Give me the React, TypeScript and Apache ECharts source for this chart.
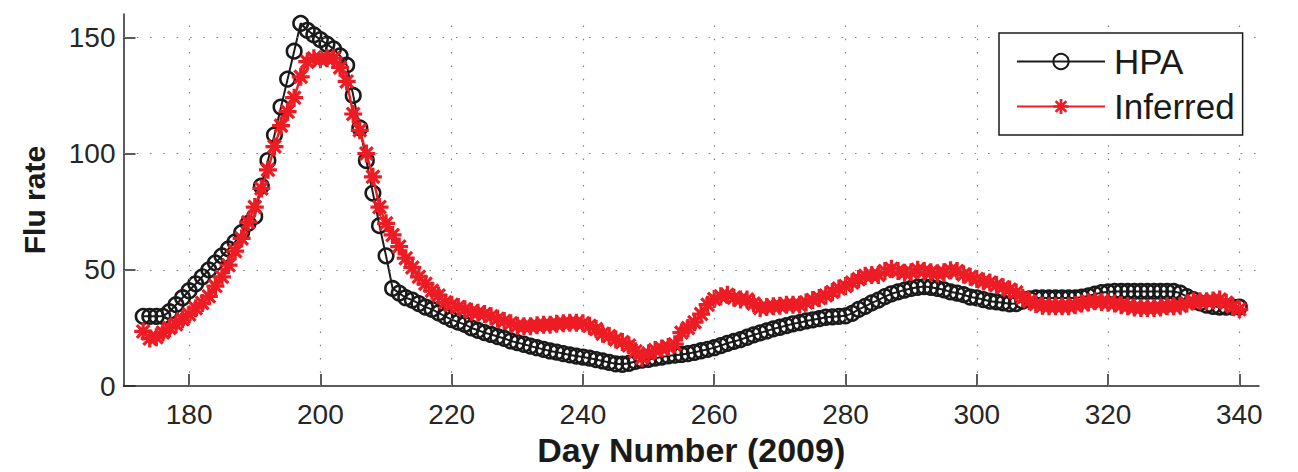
import { useEffect, useRef } from "react";
import * as echarts from "echarts";

// ---- data ----
const FIRST_DAY = 173; // first observed day; one value per day up to 340

const HPA = [
  30, 30, 30, 30, 32, 35, 38, 41, 44, 47, // 173-182
  50, 53, 56, 59, 62, 66, 70, 73, 86, 97, // 183-192
  108, 120, 132, 144, 156, 153, 151, 149, 147, 145, // 193-202
  142, 138, 125, 111, 97, 83, 69, 56, 42, 40, // 203-212
  38, 37, 35.5, 34, 33, 31.5, 30, 28.6, 27.5, 26.5, // 213-222
  25, 24, 23, 22.2, 21.3, 20.5, 19.4, 18.7, 18, 17.2, // 223-232
  16.5, 15.8, 15.1, 14.6, 14, 13.4, 12.9, 12.5, 12, 11.4, // 233-242
  10.8, 10.2, 9.6, 9.4, 9.8, 10.6, 11.2, 11.5, 12, 12.5, // 243-252
  13, 13.3, 13.6, 14, 14.5, 15.2, 15.8, 16.5, 17.4, 18.4, // 253-262
  19.2, 20, 21, 22, 22.9, 23.7, 24.6, 25.3, 26, 26.8, // 263-272
  27.3, 28, 28.5, 29, 29.6, 29.8, 30, 30.2, 31.3, 33, // 273-282
  34.3, 35.8, 37, 38.5, 39.7, 40.5, 41.3, 42, 42.5, 42.8, // 283-292
  42.5, 42, 41.4, 40.5, 40, 39.3, 38.3, 37.9, 37.2, 36.5, // 293-302
  36.2, 35.8, 35.4, 35.5, 36.5, 37.5, 37.9, 37.9, 37.9, 37.9, // 303-312
  37.9, 37.9, 37.9, 38.2, 38.8, 39.5, 40.2, 40.5, 40.7, 40.7, // 313-322
  40.7, 40.7, 40.7, 40.7, 40.7, 40.7, 40.7, 40.7, 40, 38.5, // 323-332
  37.2, 35.8, 34.8, 34.3, 34, 34, 34, 34, // 333-340
];

const INFERRED = [
  23.5, 20.5, 21, 23, 25, 26.6, 28.7, 30.8, 33.5, 35.7, // 173-182
  38.6, 43, 47, 52, 58, 63.5, 70.5, 77, 85, 93, // 183-192
  103, 112, 118, 124, 133, 139.5, 141, 140.5, 141, 141, // 193-202
  137, 131, 117, 110, 100, 90, 77, 70, 65, 60, // 203-212
  55, 51, 47, 44, 41, 39, 36, 35, 34, 33, // 213-222
  32, 31.5, 31, 30, 29, 28, 27, 26, 25.7, 25.7, // 223-232
  26.2, 26.4, 26.4, 26.8, 27, 27.2, 27.2, 27, 26, 24.5, // 233-242
  22.5, 21.5, 20, 19, 17.5, 15, 12.2, 14, 15.5, 16.2, // 243-252
  16.8, 18, 23, 25, 27.5, 31, 35, 37.5, 38.6, 39.3, // 253-262
  38, 37.2, 37.2, 35.5, 33.6, 34, 34.3, 34.6, 35, 35, // 263-272
  35, 36, 37, 37.9, 39, 40.5, 42, 43, 44.5, 46, // 273-282
  47.5, 47.8, 47.8, 49.5, 50.5, 49.5, 48.7, 49, 50, 49.5, // 283-292
  49, 48.5, 49, 49.8, 49.5, 48, 47, 46, 45, 44.5, // 293-302
  43.5, 42.5, 41.5, 40.3, 38, 36.5, 35.3, 34.5, 34.3, 34.3, // 303-312
  34.3, 34.3, 34.8, 35.5, 36, 36.5, 36.2, 35.8, 35.5, 34.8, // 313-322
  34.3, 33.8, 33.6, 33.6, 33.6, 33.8, 34.3, 34.3, 34.5, 35.5, // 323-332
  36.5, 36.5, 36.5, 36.8, 37.2, 35.8, 34.2, 33, // 333-340
];

const X_TICKS = [180, 200, 220, 240, 260, 280, 300, 320, 340];
const Y_TICKS = [0, 50, 100, 150];
const X_RANGE = [170, 343];
const Y_RANGE = [0, 160];
const SERIES_NAMES = ["HPA", "Inferred"];
const X_TITLE = "Day Number (2009)";
const Y_TITLE = "Flu rate";

// MATLAB-like '*' marker: '+' and 'x' overlaid
function asteriskPath(hw: number): string {
  const parts: string[] = [];
  for (const deg of [0, 45, 90, 135]) {
    const a = (deg * Math.PI) / 180;
    const dx = Math.cos(a);
    const dy = Math.sin(a);
    const px = -dy * hw;
    const py = dx * hw;
    const pts = [
      [dx + px, dy + py],
      [dx - px, dy - py],
      [-dx - px, -dy - py],
      [-dx + px, -dy + py],
    ].map(([x, y]) => `${x.toFixed(3)} ${y.toFixed(3)}`);
    parts.push(`M${pts[0]}L${pts[1]}L${pts[2]}L${pts[3]}Z`);
  }
  return parts.join("");
}

export default function App() {
  const ref = useRef<HTMLDivElement>(null);

  useEffect(() => {
    if (!ref.current) return;
    const chart = echarts.init(ref.current, null, { renderer: "svg" });
    const font = "'Liberation Sans', Arial, Helvetica, sans-serif";
    const axisColor = "#262626";
    const black = "#1a1a1a";
    const red = "#ed1c24";

    const hpaData = HPA.map((v, i) => [FIRST_DAY + i, v]);
    const infData = INFERRED.map((v, i) => [FIRST_DAY + i, v]);

    chart.setOption({
      animation: false,
      backgroundColor: "#ffffff",
      grid: { left: 123.5, right: 39, top: 14, bottom: 85, containLabel: false },
      xAxis: {
        type: "value",
        min: X_RANGE[0],
        max: X_RANGE[1],
        axisLine: { show: true, onZero: false, lineStyle: { color: axisColor, width: 1.5 } },
        axisTick: {
          show: true,
          inside: true,
          length: 12,
          customValues: X_TICKS,
          lineStyle: { color: axisColor, width: 1.5 },
        },
        axisLabel: {
          customValues: X_TICKS,
          fontSize: 28,
          color: axisColor,
          margin: 14,
          fontFamily: font,
        },
        splitLine: { show: false },
        name: X_TITLE,
        nameLocation: "middle",
        nameGap: 37,
        nameTextStyle: { fontSize: 34, fontWeight: "bold", color: black, fontFamily: font },
      },
      yAxis: {
        type: "value",
        min: Y_RANGE[0],
        max: Y_RANGE[1],
        axisLine: { show: true, onZero: false, lineStyle: { color: axisColor, width: 1.5 } },
        axisTick: {
          show: true,
          inside: true,
          length: 12,
          customValues: Y_TICKS,
          lineStyle: { color: axisColor, width: 1.5 },
        },
        axisLabel: {
          customValues: Y_TICKS,
          fontSize: 28,
          color: axisColor,
          margin: 8,
          fontFamily: font,
        },
        splitLine: { show: false },
        name: Y_TITLE,
        nameLocation: "middle",
        nameGap: 74,
        nameRotate: 90,
        nameTextStyle: { fontSize: 30, fontWeight: "bold", color: black, fontFamily: font },
      },
      legend: {
        orient: "vertical",
        left: 999,
        top: 33,
        backgroundColor: "#ffffff",
        borderColor: black,
        borderWidth: 1.5,
        borderRadius: 0,
        padding: [11, 8, 11, 17],
        itemWidth: 88,
        itemHeight: 19,
        itemGap: 10,
        selectedMode: false,
        textStyle: { fontSize: 35, color: black, fontFamily: font, padding: [0, 0, 0, 4] },
        data: SERIES_NAMES,
        z: 10,
      },
      series: [
        {
          type: "line",
          data: [],
          silent: true,
          z: 1,
          markLine: {
            silent: true,
            animation: false,
            symbol: ["none", "none"],
            label: { show: false },
            emphasis: { disabled: true },
            lineStyle: { color: "#808080", type: [1.5, 11.8], width: 1.2 },
            data: [
              ...X_TICKS.map((v) => ({ xAxis: v })),
              ...Y_TICKS.filter((v) => v > Y_RANGE[0]).map((v) => ({ yAxis: v })),
            ],
          },
        },
        {
          name: SERIES_NAMES[0],
          type: "line",
          data: hpaData,
          symbol: "circle",
          symbolSize: 14.5,
          showAllSymbol: true,
          lineStyle: { color: black, width: 2 },
          itemStyle: { color: "rgba(0,0,0,0)", borderColor: black, borderWidth: 2.6 },
          emphasis: { disabled: true },
          z: 3,
        },
        {
          name: SERIES_NAMES[1],
          type: "line",
          data: infData,
          symbol: "path://" + asteriskPath(0.18),
          symbolSize: 18,
          showAllSymbol: true,
          lineStyle: { color: red, width: 2.4 },
          itemStyle: { color: red },
          emphasis: { disabled: true },
          z: 4,
        },
      ],
    });

    return () => chart.dispose();
  }, []);

  return (
    <div
      ref={ref}
      style={{ position: "absolute", left: 0, top: 0, width: 1298, height: 472 }}
    />
  );
}
